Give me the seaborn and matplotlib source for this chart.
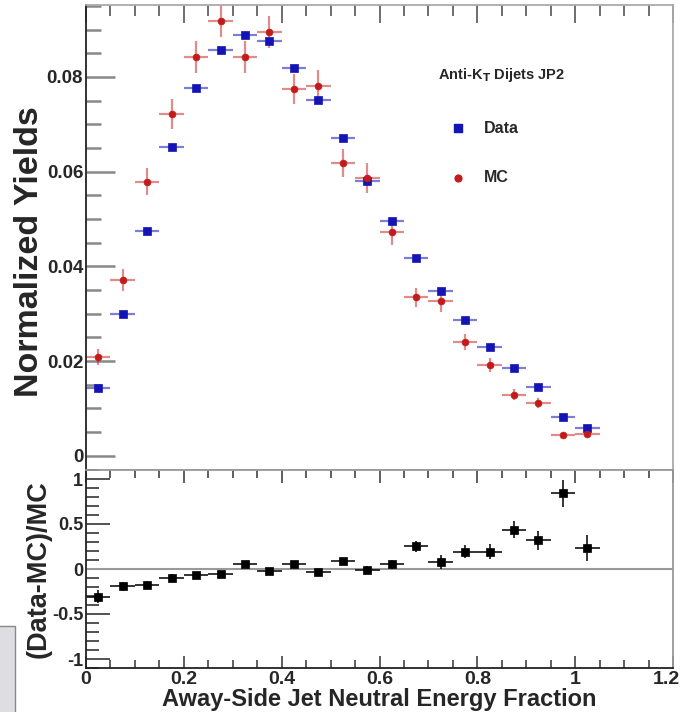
import numpy as np
import pandas as pd
import matplotlib
matplotlib.use("Agg")
import matplotlib.pyplot as plt
import matplotlib.transforms as mtransforms
import seaborn as sns
from matplotlib.ticker import MultipleLocator
from matplotlib.patches import Rectangle

sns.set_theme(style="white")
plt.rcParams['font.family'] = ['Liberation Sans', 'DejaVu Sans']
plt.rcParams['font.weight'] = 'bold'

# ---- data ----
x_centers = [0.025, 0.075, 0.125, 0.175, 0.225, 0.275, 0.325, 0.375, 0.425, 0.475,
             0.525, 0.575, 0.625, 0.675, 0.725, 0.775, 0.825, 0.875, 0.925, 0.975, 1.025]
data_yield = [0.0144, 0.0300, 0.0475, 0.0652, 0.0777, 0.0857, 0.0888, 0.0877, 0.0820, 0.0751,
              0.0671, 0.0580, 0.0495, 0.0418, 0.0348, 0.0286, 0.0229, 0.0185, 0.0146, 0.0081, 0.0058]
data_err = [0.0003, 0.0004, 0.0005, 0.0005, 0.0005, 0.0006, 0.0006, 0.0006, 0.0005, 0.0005,
            0.0005, 0.0005, 0.0004, 0.0004, 0.0004, 0.0003, 0.0003, 0.0003, 0.0002, 0.0002, 0.0002]
mc_yield = [0.0208, 0.0372, 0.0579, 0.0722, 0.0842, 0.0919, 0.0842, 0.0895, 0.0774, 0.0781,
            0.0618, 0.0586, 0.0473, 0.0335, 0.0326, 0.0240, 0.0192, 0.0129, 0.0111, 0.0043, 0.0047]
mc_err = [0.0017, 0.0023, 0.0029, 0.0032, 0.0034, 0.0035, 0.0033, 0.0034, 0.0032, 0.0033,
          0.0030, 0.0032, 0.0027, 0.0020, 0.0023, 0.0017, 0.0015, 0.0012, 0.0011, 0.0006, 0.0006]
ratio = [-0.307, -0.189, -0.178, -0.096, -0.070, -0.059, 0.059, -0.019, 0.059, -0.037,
         0.089, -0.007, 0.052, 0.252, 0.078, 0.193, 0.193, 0.437, 0.319, 0.841, 0.233]
ratio_err = [0.074, 0.050, 0.045, 0.037, 0.030, 0.030, 0.030, 0.030, 0.033, 0.037,
             0.033, 0.037, 0.048, 0.063, 0.074, 0.074, 0.081, 0.093, 0.104, 0.148, 0.148]
bin_half = 0.025
x_ticks = [0, 0.2, 0.4, 0.6, 0.8, 1, 1.2]
x_ticklabels = ["0", "0.2", "0.4", "0.6", "0.8", "1", "1.2"]
top_yticks = [0, 0.02, 0.04, 0.06, 0.08]
top_yticklabels = ["0", "0.02", "0.04", "0.06", "0.08"]
bot_yticks = [-1, -0.5, 0, 0.5, 1]
bot_yticklabels = ["-1", "-0.5", "0", "0.5", "1"]

df = pd.DataFrame({"x": x_centers, "data": data_yield, "data_err": data_err,
                   "mc": mc_yield, "mc_err": mc_err, "ratio": ratio, "ratio_err": ratio_err})

BLUE = "#1414b4"
RED = "#c41a1a"

fig = plt.figure(figsize=(6.84, 7.12), dpi=100)
ax1 = fig.add_axes([86/684, 1-470/712, 587/684, 465/712])
ax2 = fig.add_axes([86/684, 1-668/712, 587/684, 198/712])

# ---- top panel ----
ax1.errorbar(df["x"], df["data"], xerr=bin_half, yerr=df["data_err"], fmt="none",
             ecolor=BLUE, alpha=0.55, elinewidth=1.6, zorder=2)
ax1.errorbar(df["x"], df["mc"], xerr=bin_half, yerr=df["mc_err"], fmt="none",
             ecolor=RED, alpha=0.5, elinewidth=1.6, zorder=2)
sns.scatterplot(data=df, x="x", y="data", ax=ax1, marker="s", color=BLUE, s=26,
                edgecolor=BLUE, linewidth=0.5, zorder=3, legend=False)
sns.scatterplot(data=df, x="x", y="mc", ax=ax1, marker="o", color=RED, s=24,
                edgecolor=RED, linewidth=0.5, zorder=3, legend=False)

ax1.set_xlim(0, 1.2)
ax1.set_ylim(-0.003, 0.0952)
ax1.set_yticks(top_yticks)
ax1.set_yticklabels(top_yticklabels)
ax1.yaxis.set_minor_locator(MultipleLocator(0.005))
ax1.set_xticks(x_ticks)
ax1.xaxis.set_minor_locator(MultipleLocator(0.05))
ax1.tick_params(axis="x", which="both", direction="in", top=True, bottom=False,
                labeltop=False, labelbottom=False, color="#555555")
ax1.tick_params(axis="x", which="major", length=13, width=1.2)
ax1.tick_params(axis="x", which="minor", length=8, width=1.2)
ax1.tick_params(axis="y", which="both", direction="in", left=True, right=False,
                color="#888888", labelsize=13.5, pad=2)
ax1.tick_params(axis="y", which="major", length=21, width=1.8)
ax1.tick_params(axis="y", which="minor", length=11, width=1.8)
for lab in ax1.get_yticklabels():
    lab.set_fontweight("bold")
ax1.set_xlabel("")
ax1.set_ylabel("Normalized Yields", fontsize=24.5, fontweight="bold")
ax1.yaxis.set_label_coords(-0.070, 0.47)
for side in ["top", "right", "bottom"]:
    ax1.spines[side].set_color("#aaaaaa")
    ax1.spines[side].set_linewidth(1.3)
ax1.spines["left"].set_color("#222222")
ax1.spines["left"].set_linewidth(1.3)

# legend / labels
ax1.text(0.599, 0.849, r"Anti-K$_{\mathbf{T}}$ Dijets JP2", transform=ax1.transAxes,
         fontsize=10.5, fontweight="bold", ha="left", va="center",
         family=['Liberation Sans', 'DejaVu Sans'])
ax1.scatter([0.634], [0.735], transform=ax1.transAxes, marker="s", s=26, color=BLUE)
ax1.text(0.678, 0.735, "Data", transform=ax1.transAxes, fontsize=11.5,
         fontweight="bold", ha="left", va="center")
ax1.scatter([0.634], [0.628], transform=ax1.transAxes, marker="o", s=24, color=RED)
ax1.text(0.678, 0.628, "MC", transform=ax1.transAxes, fontsize=11.5,
         fontweight="bold", ha="left", va="center")

# ---- bottom panel ----
ax2.axhline(0, color="#999999", linewidth=1.5, zorder=1)
ax2.errorbar(df["x"], df["ratio"], xerr=bin_half, yerr=df["ratio_err"], fmt="none",
             ecolor="black", alpha=0.85, elinewidth=1.3, zorder=2)
sns.scatterplot(data=df, x="x", y="ratio", ax=ax2, marker="s", color="black", s=30,
                edgecolor="black", linewidth=0.5, zorder=3, legend=False)
ax2.set_xlim(0, 1.2)
ax2.set_ylim(-1.1, 1.1)
ax2.set_yticks(bot_yticks)
ax2.set_yticklabels(bot_yticklabels)
ax2.yaxis.set_minor_locator(MultipleLocator(0.1))
ax2.set_xticks(x_ticks)
ax2.set_xticklabels(x_ticklabels)
ax2.xaxis.set_minor_locator(MultipleLocator(0.05))
ax2.tick_params(axis="x", which="both", direction="in", top=True, bottom=True,
                color="#333333", labelsize=14, pad=2)
ax2.tick_params(axis="x", which="major", length=9, width=1.1)
ax2.tick_params(axis="x", which="minor", length=6, width=1.1)
ax2.tick_params(axis="y", which="both", direction="in", left=True, right=False,
                color="#444444", labelsize=13, pad=2)
ax2.tick_params(axis="y", which="major", length=17, width=1.3)
ax2.tick_params(axis="y", which="minor", length=9, width=1.3)
for lab in ax2.get_xticklabels() + ax2.get_yticklabels():
    lab.set_fontweight("bold")
# nudge last x label so it stays inside the canvas
last = ax2.get_xticklabels()[-1]
last.set_transform(last.get_transform() +
                   mtransforms.ScaledTranslation(-5/72, 0, fig.dpi_scale_trans))
ax2.set_xlabel("Away-Side Jet Neutral Energy Fraction", fontsize=17,
               fontweight="bold")
ax2.xaxis.label.set_verticalalignment("baseline")
ax2.xaxis.set_label_coords(0.5, -(706 - 668) / 198)
ax2.set_ylabel("(Data-MC)/MC", fontsize=19.5, fontweight="bold")
ax2.yaxis.set_label_coords(-0.058, 0.5)
for side in ["top", "right"]:
    ax2.spines[side].set_color("#999999")
    ax2.spines[side].set_linewidth(1.3)
for side in ["left", "bottom"]:
    ax2.spines[side].set_color("#222222")
    ax2.spines[side].set_linewidth(1.3)

# gray box artifact at lower-left
fig.patches.append(Rectangle((-0.01, -0.01), 15/684 + 0.01, (712-626)/712 + 0.01,
                             transform=fig.transFigure, facecolor="#dedee2",
                             edgecolor="#888888", linewidth=1.0, zorder=0))

fig.savefig("out.png", dpi=100)
